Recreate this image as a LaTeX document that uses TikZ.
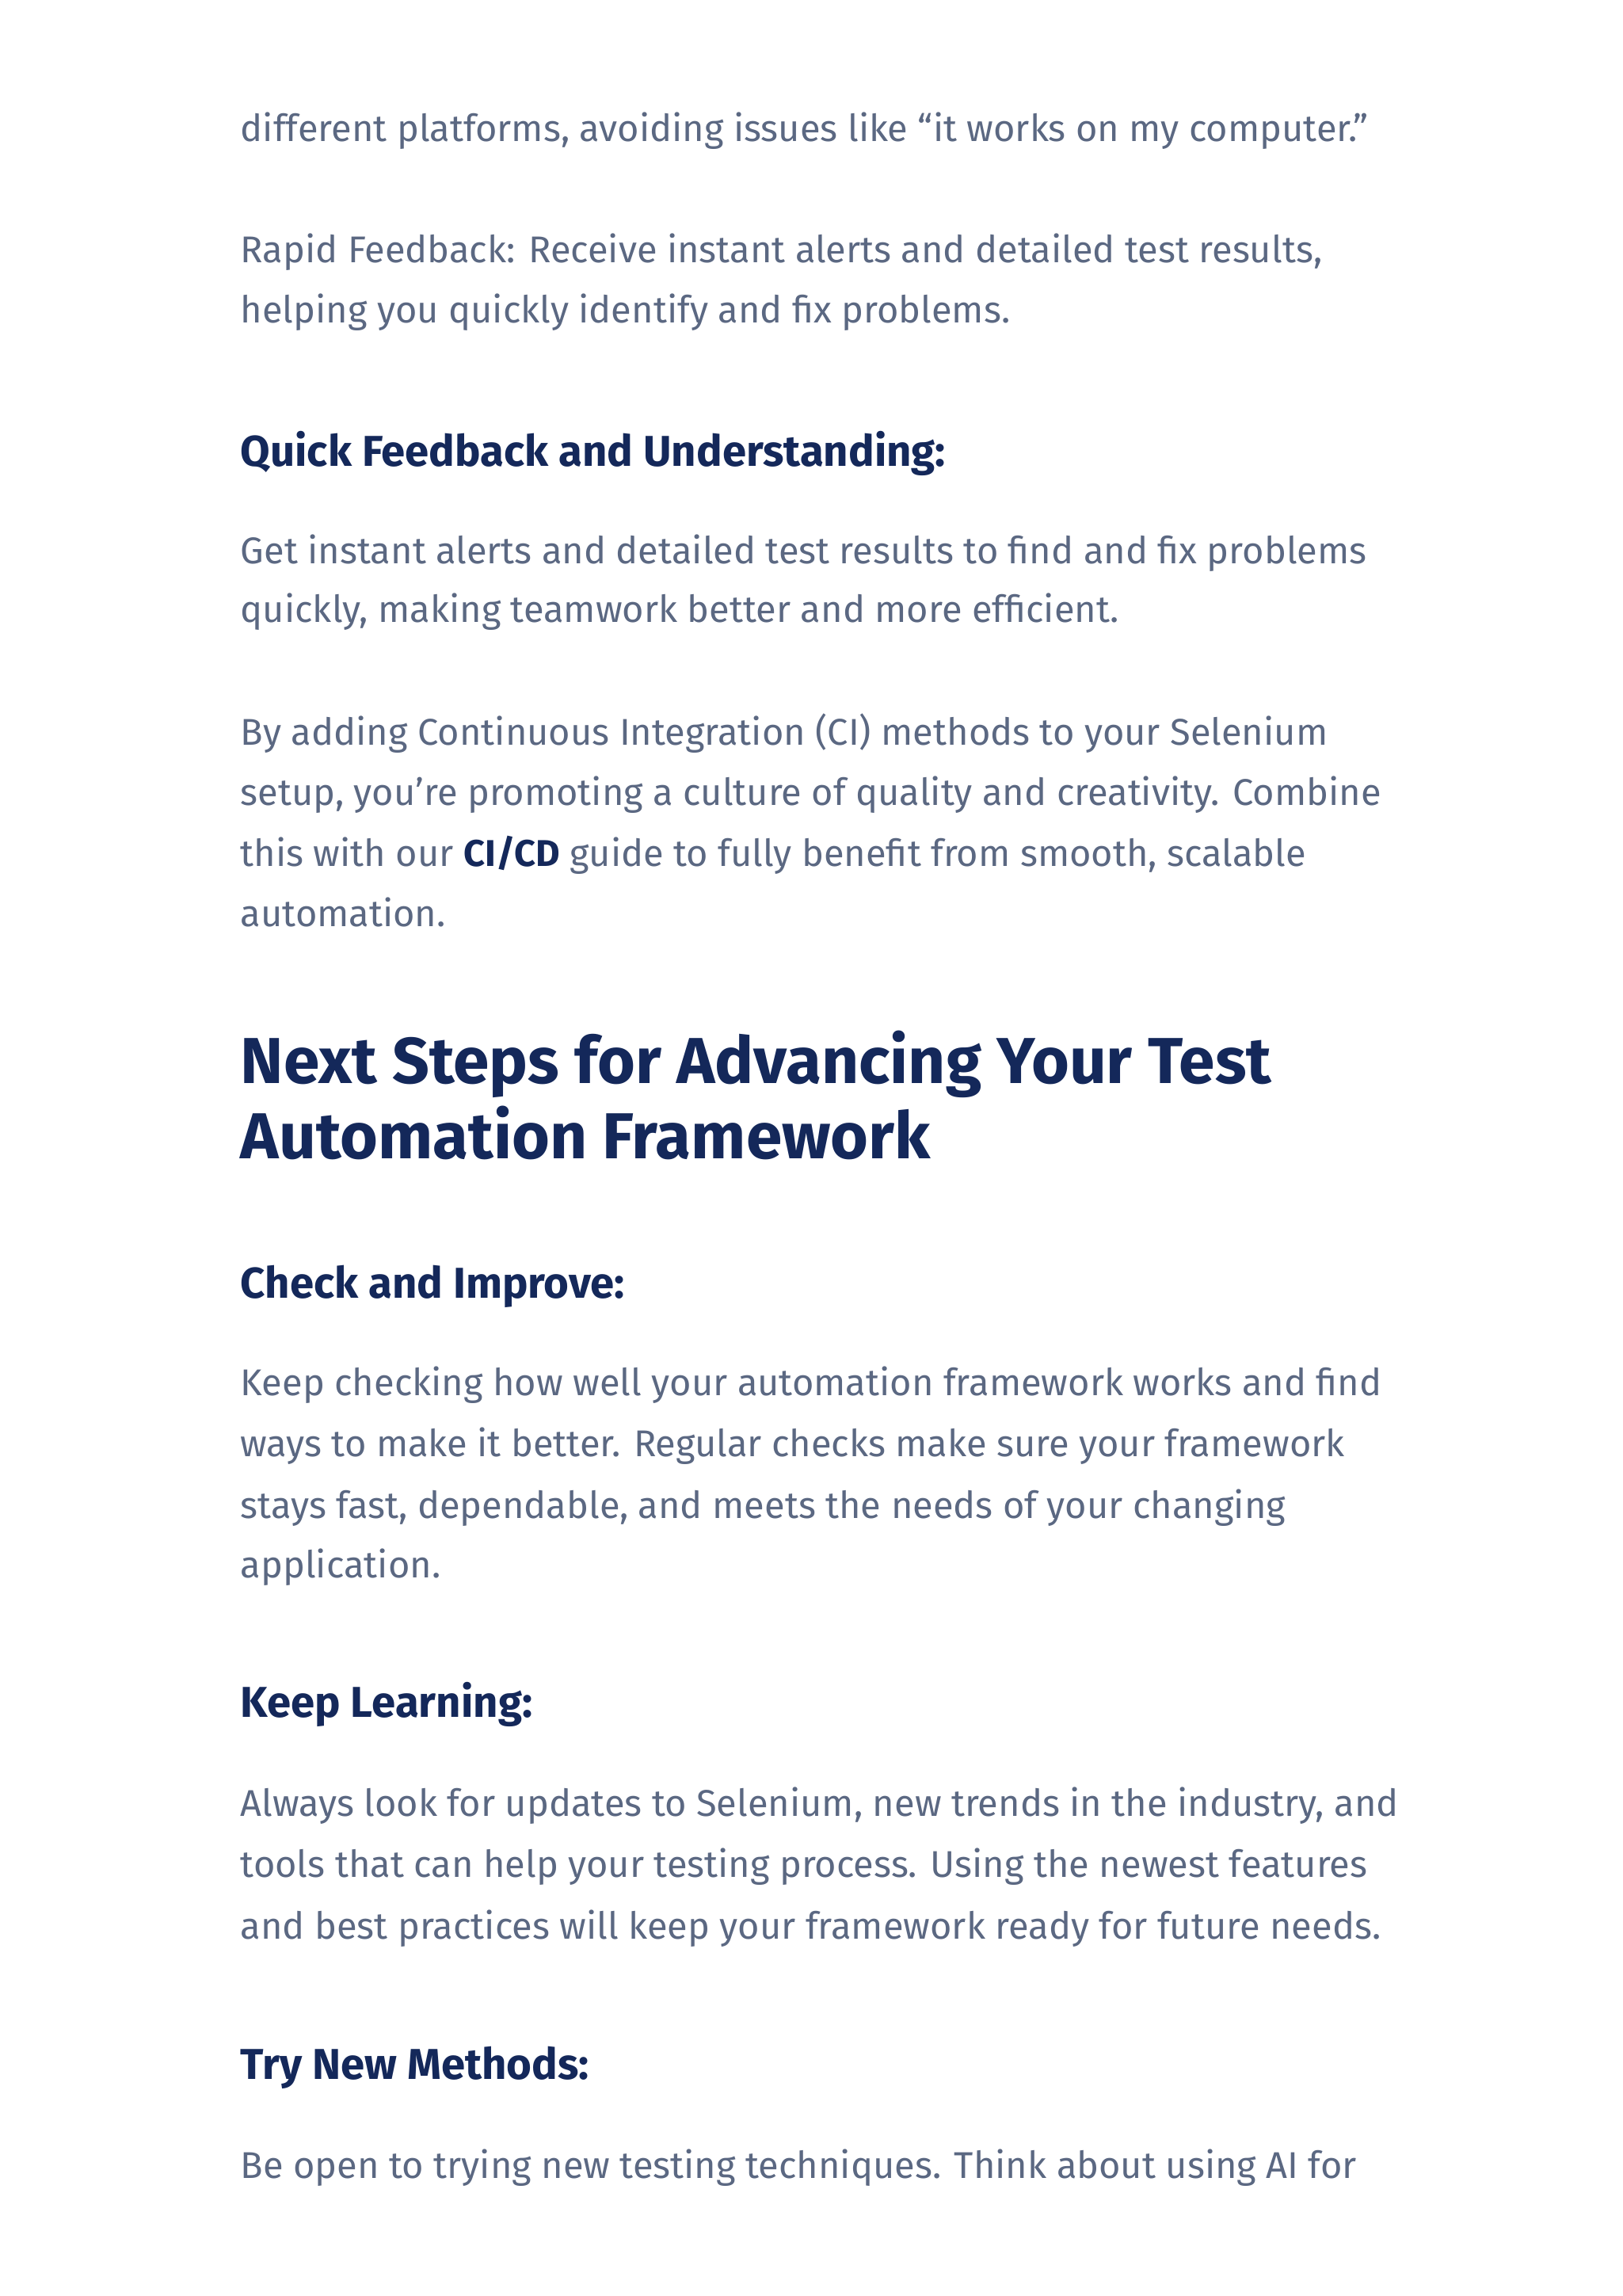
\documentclass[tikz,border=0pt]{standalone}
\usepackage{fontspec}
\setmainfont{Fira Sans}
\definecolor{body}{HTML}{5B6882}
\definecolor{head}{HTML}{14285A}
\begin{document}
\begin{tikzpicture}[x=1.8625pt,y=-1.8625pt,
  bt/.style={anchor=base west,inner sep=0pt,text=body,font=\fontsize{47}{54}\selectfont},
  ht/.style={anchor=base west,inner sep=0pt,text=head,font=\fontsize{54.5}{60}\selectfont\bfseries},
  h2/.style={anchor=base west,inner sep=0pt,text=head,font=\fontsize{82}{95}\selectfont\bfseries}]
\useasboundingbox[fill=white] (0,0) rectangle (1100,1556);
\node[bt] (l1) at (163,96) {different platforms, avoiding issues like “it works on my computer.”};
\node[bt] (l2) at (163,178) {Rapid Feedback: Receive instant alerts and detailed test results,};
\node[bt] (l3) at (163,219) {helping you quickly identify and fix problems.};
\node[ht] (h1) at (163,316) {Quick Feedback and Understanding:};
\node[bt] (l4) at (163,382) {Get instant alerts and detailed test results to find and fix problems};
\node[bt] (l5) at (163,422) {quickly, making teamwork better and more efficient.};
\node[bt] (l6) at (163,505) {By adding Continuous Integration (CI) methods to your Selenium};
\node[bt] (l7) at (163,546) {setup, you’re promoting a culture of quality and creativity. Combine};
\node[bt] (l8) at (163,587) {this with our \textcolor{head}{\bfseries CI/CD} guide to fully benefit from smooth, scalable};
\node[bt] (l9) at (163,628) {automation.};
\node[h2] (t1) at (163,734) {Next Steps for Advancing Your Test};
\node[h2] (t2) at (163,785) {Automation Framework};
\node[ht] (h2) at (163,880) {Check and Improve:};
\node[bt] (m1) at (163,946) {Keep checking how well your automation framework works and find};
\node[bt] (m2) at (163,987) {ways to make it better. Regular checks make sure your framework};
\node[bt] (m3) at (163,1029) {stays fast, dependable, and meets the needs of your changing};
\node[bt] (m4) at (163,1069) {application.};
\node[ht] (h3) at (163,1164) {Keep Learning:};
\node[bt] (n1) at (163,1231) {Always look for updates to Selenium, new trends in the industry, and};
\node[bt] (n2) at (163,1272) {tools that can help your testing process. Using the newest features};
\node[bt] (n3) at (163,1314) {and best practices will keep your framework ready for future needs.};
\node[ht] (h4) at (163,1409) {Try New Methods:};
\node[bt] (o1) at (163,1476) {Be open to trying new testing techniques. Think about using AI for};
\end{tikzpicture}
\end{document}
